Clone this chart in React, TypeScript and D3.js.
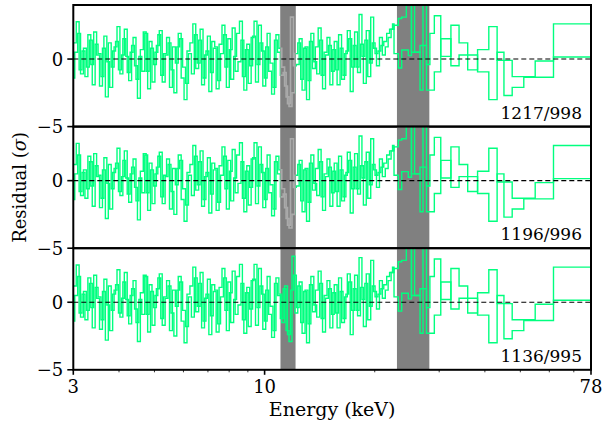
import * as d3 from 'd3';

// dense low-energy binning (keV), FPMA
const denseEdgesA = [
  3.0, 3.056, 3.112, 3.169, 3.228, 3.288, 3.349, 3.411, 3.474, 3.538,
  3.604, 3.671, 3.739, 3.808, 3.878, 3.95, 4.023, 4.098, 4.174, 4.251,
  4.33, 4.41, 4.492, 4.575, 4.66, 4.746, 4.834, 4.923, 5.014, 5.107,
  5.202, 5.298, 5.396, 5.496, 5.598, 5.702, 5.807, 5.915, 6.024, 6.136,
  6.25, 6.366, 6.483, 6.603, 6.726, 6.85, 6.977, 7.106, 7.238, 7.372,
  7.509, 7.648, 7.789, 7.933, 8.08, 8.23, 8.382, 8.537, 8.695, 8.856,
  9.02, 9.188, 9.358, 9.531, 9.707, 9.887, 10.07, 10.26, 10.45, 10.64,
  10.84, 11.04, 11.24, 11.45, 11.66, 11.88, 12.1, 12.32, 12.55, 12.78,
  13.02, 13.26, 13.51, 13.76, 14.01, 14.27, 14.54, 14.81, 15.08, 15.36,
  15.64, 15.93, 16.23, 16.53, 16.83, 17.14, 17.46, 17.79, 18.12, 18.45,
  18.79, 19.14, 19.5, 19.86, 20.22, 20.6, 20.98, 21.37, 21.76, 22.17,
  22.58,
];

// FPMB binning, offset from FPMA
const denseEdgesB = [
  3.0, 3.028, 3.084, 3.14, 3.198, 3.258, 3.318, 3.38, 3.442, 3.506,
  3.571, 3.637, 3.705, 3.773, 3.843, 3.914, 3.986, 4.06, 4.136, 4.212,
  4.29, 4.37, 4.451, 4.533, 4.617, 4.703, 4.79, 4.878, 4.968, 5.06,
  5.154, 5.25, 5.347, 5.446, 5.547, 5.65, 5.754, 5.861, 5.969, 6.08,
  6.193, 6.308, 6.424, 6.543, 6.664, 6.788, 6.913, 7.041, 7.172, 7.305,
  7.44, 7.578, 7.718, 7.861, 8.006, 8.155, 8.306, 8.459, 8.616, 8.775,
  8.938, 9.104, 9.273, 9.444, 9.619, 9.797, 9.978, 10.16, 10.35, 10.54,
  10.74, 10.94, 11.14, 11.34, 11.55, 11.77, 11.99, 12.21, 12.43, 12.66,
  12.9, 13.14, 13.38, 13.63, 13.88, 14.14, 14.4, 14.67, 14.94, 15.22,
  15.5, 15.78, 16.08, 16.38, 16.68, 16.98, 17.3, 17.62, 17.95, 18.28,
  18.62, 18.96, 19.32, 19.68, 20.04, 20.41, 20.79, 21.17, 21.56, 21.96,
  22.37, 22.58,
];

const fpmaDense = [
  1.2, 2.76, -0.8, 0.6, -1.3, 1.8, -0.4, 2.0, 0.3, -2.0,
  0.8, -2.8, 1.2, -0.6, 0.9, 2.4, -1.1, 1.5, 0.2, -1.6,
  1.0, -0.5, -2.9, 0.7, 2.0, -0.9, 1.3, -1.7, 0.5, 1.8,
  -1.2, 0.4, 1.6, -2.1, 0.9, -0.3, 1.9, -1.4, -3.0, 0.6,
  1.2, 2.6, -0.7, 1.4, -1.9, 0.3, 1.7, -1.0, 0.8, -2.2,
  1.1, 2.5, -0.6, 1.5, -1.5, 0.2, 1.9, 2.8, -1.3, 0.7,
  -1.8, 1.6, 2.8, -0.4, 1.2, -2.0, 0.9, -0.9, -2.6, 1.4,
  0.5, -1.2, -1.0, -2.8, -3.5, -2.5, 0.4, 1.2, -1.5, 0.8,
  -3.0, 1.3, -0.7, 0.9, 2.3, -1.2, 0.5, 1.6, -1.9, 0.7,
  -0.8, 1.8, -1.5, 0.4, 2.1, -2.4, 1.0, -0.6, 3.3, 0.2,
  1.4, -1.3, 3.1, 0.8, -0.5, 1.6, 0.3, 0.9, 1.6, 2.2,
];

const fpmbDense = [
  -1.4, 0.5, 1.9, -1.1, 0.8, -0.6, 1.4, -1.9, 1.1, 0.4,
  -1.3, 1.7, -0.2, -2.1, 0.6, 1.3, -0.8, 0.3, 2.2, -1.0,
  0.5, 1.6, -1.5, 0.2, -0.9, 1.9, -2.2, 0.8, -0.4, 1.0,
  2.1, -1.7, 0.3, 1.2, -0.8, -2.5, 0.9, 1.5, -0.6, -1.8,
  0.4, -1.1, 1.8, -0.3, 2.2, -1.4, 0.6, -2.4, 1.3, 0.9,
  -1.6, 0.4, 1.8, -2.1, 0.7, 2.3, -0.9, -0.2, 1.4, -2.3,
  1.1, -0.5, 1.7, -1.7, 2.5, 0.6, -1.4, 1.9, -0.3, -2.1,
  1.8, 0.8, -0.6, -2.0, -3.3, 3.1, -0.5, -0.4, 1.5, -2.3,
  0.9, -1.6, 1.9, -0.2, -1.1, 1.4, -2.2, 0.3, 1.0, -0.9,
  1.3, -1.9, 0.8, -1.2, 0.6, 1.5, -0.6, 2.0, -1.0, 1.1,
  -1.8, 2.1, -0.3, 1.2, 0.4, 0.6, 1.0, 1.3, 1.9, 2.2, 2.6,
];

// bottom-panel residuals in the 11-12 keV window (bins 71-76)
const bottomIronA = [-1.2, 1.0, -2.1, -2.9, 3.4, -0.8];
const bottomIronB = [0.6, -1.5, 1.2, -2.4, 0.9, 2.0];

// wide high-energy bins
const hiEdgesA = [22.58, 23.2, 23.7, 24.4, 25.2, 26.6, 27.1, 27.7, 28.3, 29.1, 30.3, 32.3, 34.0, 35.9, 38.2, 41.0, 43.2, 47.5, 54.9, 61.6, 78];
const hiValsA = [2.5, 3.0, 3.1, 4.6, 0.5, -2.3, 4.6, -0.4, 1.9, 3.2, 0.2, 2.5, 1.2, -0.8, 0.7, 2.4, -0.1, -1.3, -0.15, 2.6];
const hiEdgesB = [22.58, 23.2, 23.7, 24.7, 25.2, 25.7, 26.6, 27.7, 28.3, 29.1, 30.3, 32.3, 34.0, 35.9, 38.2, 41.0, 43.2, 45.1, 47.5, 51.1, 54.9, 61.6, 78];
const hiValsB = [0.4, -0.66, 0.67, 0.25, 4.6, 0.5, 1.0, -2.3, -2.3, -0.95, 1.5, -0.5, 0.3, 0.3, -0.95, -3.0, 0.5, -2.7, -2.1, -1.35, -1.35, 0.15];

const statLabels = ['1217/998', '1196/996', '1136/995'];
const greyIron = [true, true, false];
const ironBand: [number, number] = [11.05, 12.15];
const bands: Array<[number, number]> = [ironBand, [23.0, 28.2]];
const xMajor = [3, 10, 78];
const xMinor = [4, 5, 6, 7, 8, 9, 20, 30, 40, 50, 60, 70];
const yTicks = [0, -5];

const W = 605;
const H = 428;
const left = 73.3;
const right = 591;
const top = 5;
const panelH = 121.6;
const green = '#00ff7f';
const font = "'DejaVu Serif', serif";

function buildSeries(edges: number[], dense: number[], hiEdges: number[], hiVals: number[]) {
  const e = edges.concat(hiEdges.slice(1));
  const v = dense.concat(hiVals);
  return e.map((x, i) => [x, v[Math.min(i, v.length - 1)]] as [number, number]);
}

function withIron(dense: number[], repl: number[]) {
  const out = dense.slice();
  repl.forEach((r, i) => (out[71 + i] = r));
  return out;
}

export default function App() {
  const x = d3.scaleLog().domain([3, 78]).range([left, right]);
  const y = d3.scaleLinear().domain([-5, 4]).range([panelH, 0]);
  const line = d3
    .line<[number, number]>()
    .x((d) => x(d[0]))
    .y((d) => y(d[1]))
    .curve(d3.curveStepAfter);

  const panels = [0, 1, 2].map((i) => {
    const a = i === 2 ? withIron(fpmaDense, bottomIronA) : fpmaDense;
    const b = i === 2 ? withIron(fpmbDense, bottomIronB) : fpmbDense;
    return {
      a: buildSeries(denseEdgesA, a, hiEdgesA, hiValsA),
      b: buildSeries(denseEdgesB, b, hiEdgesB, hiValsB),
    };
  });

  const bottom = top + 3 * panelH;
  const txt = { fontFamily: font };

  return (
    <svg width={W} height={H} style={{ position: 'absolute', left: 0, top: 0, background: '#fff' }}>
      <defs>
        <clipPath id="panel-clip">
          <rect x={left} y={0} width={right - left} height={panelH} />
        </clipPath>
        <clipPath id="iron-clip">
          <rect x={x(ironBand[0])} y={0} width={x(ironBand[1]) - x(ironBand[0])} height={panelH} />
        </clipPath>
      </defs>
      {panels.map((p, i) => (
        <g key={i} transform={`translate(0,${top + i * panelH})`}>
          {bands.map((bd, j) => (
            <rect key={j} x={x(bd[0])} y={0} width={x(bd[1]) - x(bd[0])} height={panelH} fill="#808080" />
          ))}
          <g clipPath="url(#panel-clip)">
            <path d={line(p.b) ?? ''} fill="none" stroke={green} strokeWidth={1.4} />
            <path d={line(p.a) ?? ''} fill="none" stroke={green} strokeWidth={1.4} />
          </g>
          {greyIron[i] && (
            <g>
              <rect x={x(ironBand[0])} y={0} width={x(ironBand[1]) - x(ironBand[0])} height={panelH} fill="#808080" />
              <g clipPath="url(#iron-clip)">
                <path d={line(p.b) ?? ''} fill="none" stroke="#aaaaaa" strokeWidth={1.6} />
                <path d={line(p.a) ?? ''} fill="none" stroke="#aaaaaa" strokeWidth={1.6} />
              </g>
            </g>
          )}
          <line x1={left} x2={right} y1={y(0)} y2={y(0)} stroke="#000" strokeWidth={1.1} strokeDasharray="5,3" />
          {yTicks.map((t) => (
            <g key={t}>
              <line x1={left - 6} x2={left} y1={y(t)} y2={y(t)} stroke="#000" strokeWidth={1.6} />
              <text x={left - 10} y={y(t) + 6.5} fontSize={18} textAnchor="end" style={txt}>
                {t < 0 ? `\u2212${Math.abs(t)}` : t}
              </text>
            </g>
          ))}
          <text x={right - 9} y={panelH - 8} fontSize={17} textAnchor="end" style={txt}>
            {statLabels[i]}
          </text>
          <rect x={left} y={0} width={right - left} height={panelH} fill="none" stroke="#000" strokeWidth={2} />
        </g>
      ))}
      {xMinor.map((t) => (
        <line key={t} x1={x(t)} x2={x(t)} y1={bottom} y2={bottom + 2.5} stroke="#000" strokeWidth={0.8} />
      ))}
      {xMajor.map((t) => (
        <g key={t}>
          <line x1={x(t)} x2={x(t)} y1={bottom} y2={bottom + 5} stroke="#000" strokeWidth={1.6} />
          <text x={x(t)} y={bottom + 23} fontSize={18} textAnchor="middle" style={txt}>
            {t}
          </text>
        </g>
      ))}
      <text x={(left + right) / 2} y={bottom + 46} fontSize={19} textAnchor="middle" style={txt}>
        Energy (keV)
      </text>
      <text
        transform={`translate(26,${top + 1.5 * panelH}) rotate(-90)`}
        fontSize={18}
        textAnchor="middle"
        style={txt}
      >
        Residual (<tspan fontStyle="italic">σ</tspan>)
      </text>
    </svg>
  );
}
